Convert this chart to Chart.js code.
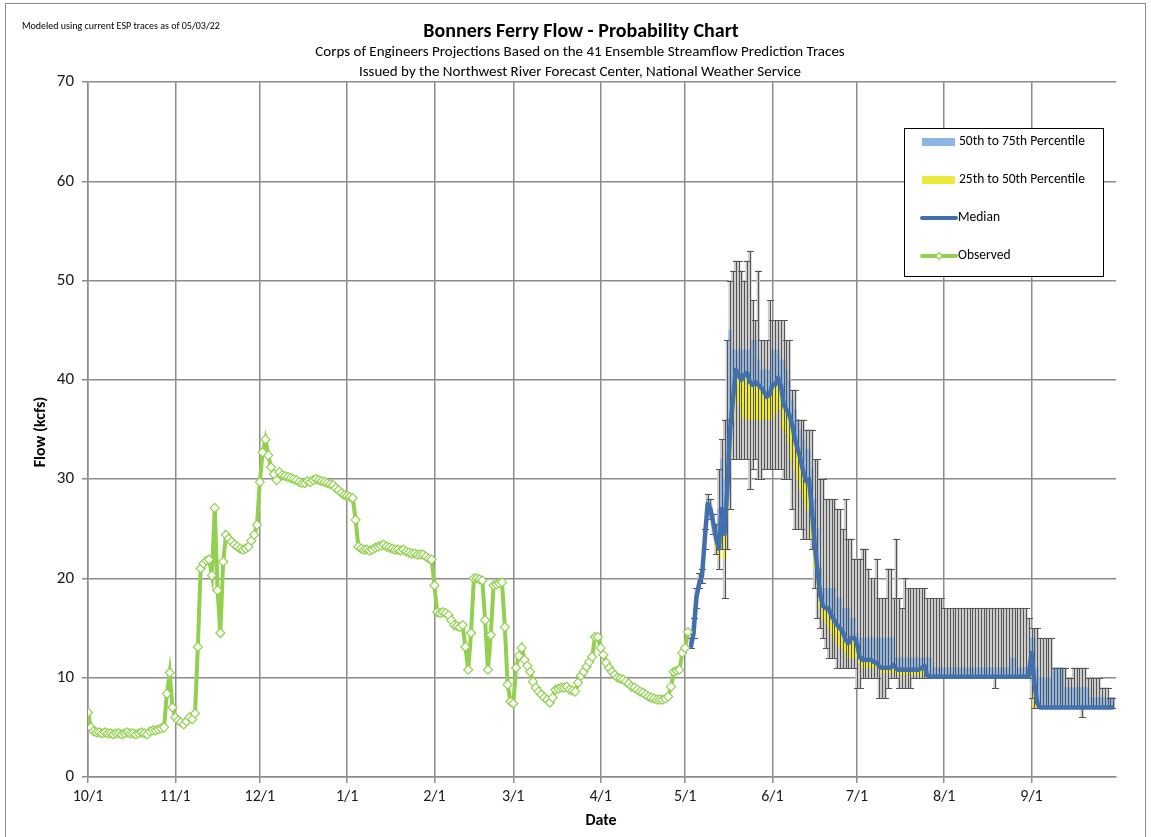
<!DOCTYPE html>
<html>
<head>
<meta charset="utf-8">
<title>Bonners Ferry Flow - Probability Chart</title>
<script src="https://cdn.jsdelivr.net/npm/chart.js@4.4.1/dist/chart.umd.min.js"></script>
<style>
  html, body { margin: 0; padding: 0; background: #fff; }
  #wrap { width: 1151px; height: 837px; }
</style>
</head>
<body>
<div id="wrap"><canvas id="flowChart" width="1151" height="837"></canvas></div>
<script>
// day index 0 = 10/1 (water year), one value per day
const monthTicks = [0, 31, 61, 92, 123, 151, 182, 212, 243, 273, 304, 335];
const monthLabels = ['10/1', '11/1', '12/1', '1/1', '2/1', '3/1', '4/1', '5/1', '6/1', '7/1', '8/1', '9/1'];
const yTicks = [0, 10, 20, 30, 40, 50, 60, 70];

// observed flow (kcfs), 10/1 .. 5/2
const obsStart = 0;
const obsFlow = [
  6.5, 5.0, 4.6, 4.5, 4.5, 4.4, 4.5, 4.4, 4.4, 4.3,
  4.4, 4.4, 4.3, 4.4, 4.5, 4.4, 4.4, 4.3, 4.4, 4.5,
  4.4, 4.3, 4.6, 4.7, 4.7, 4.8, 4.9, 5.0, 8.4, 10.5,
  7.0, 6.0, 5.7, 5.5, 5.3, 5.6, 6.0, 5.8, 6.4, 13.1,
  21.0, 21.5, 21.8, 21.9, 20.3, 27.1, 18.8, 14.5, 21.7, 24.4,
  24.0, 23.7, 23.4, 23.2, 23.0, 22.9, 23.0, 23.2, 23.8, 24.4,
  25.4, 29.7, 32.7, 34.0, 32.4, 31.2, 30.5, 29.9, 30.7, 30.4,
  30.3, 30.2, 30.1, 30.0, 29.9, 29.7, 29.6, 29.6, 29.8, 29.7,
  29.9, 30.0, 29.9, 29.8, 29.7, 29.6, 29.5, 29.4, 29.1, 28.9,
  28.6, 28.4, 28.3, 28.2, 28.1, 25.9, 23.2, 23.0, 22.9, 22.9,
  22.8, 22.9, 23.1, 23.2, 23.3, 23.4, 23.2, 23.1, 23.0, 22.9,
  22.9, 22.8, 22.9, 22.7, 22.6, 22.5, 22.5, 22.4, 22.4, 22.4,
  22.2, 22.0, 21.9, 19.3, 16.6, 16.5, 16.6, 16.5, 16.3, 15.8,
  15.3, 15.2, 15.1, 15.3, 13.1, 10.8, 14.5, 20.0, 20.0, 19.9,
  19.8, 15.8, 10.8, 14.3, 19.3, 19.4, 19.5, 19.6, 15.1, 9.3,
  7.6, 7.4, 11.0, 12.2, 13.0, 11.8, 11.2, 10.6, 9.6, 9.0,
  8.6, 8.3, 8.0, 7.8, 7.5, 8.0, 8.8, 8.9, 9.0, 9.0,
  9.1, 8.8, 8.7, 8.6, 9.5, 10.2, 10.6, 11.1, 11.6, 12.1,
  14.1, 14.1, 13.0, 12.3, 11.5, 11.0, 10.6, 10.3, 10.0, 9.9,
  9.8, 9.6, 9.4, 9.1, 9.0, 8.8, 8.6, 8.5, 8.3, 8.1,
  8.0, 7.9, 7.8, 7.8, 7.8, 7.9, 8.1, 9.1, 10.6, 10.7,
  10.8, 12.5, 13.0, 14.6
];

// ESP forecast, 5/3 .. 9/30
const fcStart = 214;
const fcP25 = [
  13, 14, 17.5, 19, 20, 23.5, 27, 26.5, 25, 23,
  22, 24, 22, 26, 32, 36, 38, 37.5, 36, 36.5,
  36, 36, 36, 36, 36, 36, 36, 36, 36, 36,
  36.5, 37, 37, 35, 34.5, 33.5, 32, 31, 30, 29,
  28, 27, 27, 24, 21, 19, 17, 16, 15.5, 15,
  14.5, 14, 13.5, 13, 13, 12.5, 12, 12, 12, 12,
  11.5, 11, 11, 11, 11, 11, 11, 10.8, 10.5, 10.5,
  10.5, 10.5, 10.5, 10.5, 10.3, 10.3, 10.3, 10.3, 10.3, 10.3,
  10.3, 10.3, 10.3, 10.3, 10.1, 10.1, 10.1, 10.1, 10.1, 10.1,
  10.1, 10.1, 10.1, 10.1, 10.1, 10.1, 10.1, 10.1, 10.1, 10.1,
  10.1, 10.1, 10.1, 10.1, 10.1, 10.1, 10.1, 10.1, 10.1, 10.1,
  10.1, 10.1, 10.1, 10.1, 10.1, 10.1, 10.1, 10.1, 10.1, 10.1,
  10.1, 10, 7, 7, 7, 7, 7, 7, 7, 7,
  7, 7, 7, 7, 7, 7, 7, 7, 7, 7,
  7, 7, 7, 7, 7, 7, 7, 7, 7, 7,
  7
];
const fcMedian = [
  13, 14.5, 18, 19.5, 20.2, 24, 27.5, 27, 25.6, 24,
  23, 27, 24.5, 29, 35, 38, 41, 40.5, 40, 40.5,
  40.7, 39.8, 39.5, 39.8, 39.5, 39.2, 38.8, 38.3, 38.5, 39.5,
  39.5, 40.2, 39.5, 37.5, 37, 36.5, 35.5, 34, 33, 32,
  30.7, 29.8, 30, 27, 23.5, 20.8, 18.3, 17.2, 17, 17,
  16.2, 15.8, 15.3, 15, 14.6, 13.8, 13.5, 14, 14, 13.5,
  12.1, 11.8, 11.8, 11.8, 11.8, 11.6, 11.5, 11.1, 11, 11,
  11, 11, 11.3, 10.9, 10.8, 10.8, 10.8, 10.8, 10.8, 10.8,
  10.8, 10.8, 11, 11.2, 10.2, 10.1, 10.1, 10.1, 10.1, 10.1,
  10.1, 10.1, 10.1, 10.1, 10.1, 10.1, 10.1, 10.1, 10.1, 10.1,
  10.1, 10.1, 10.1, 10.1, 10.1, 10.1, 10.1, 10.1, 10.1, 10.1,
  10.1, 10.1, 10.1, 10.1, 10.1, 10.1, 10.1, 10.1, 10.1, 10.1,
  10.1, 12.5, 9.5, 7.5, 7, 7, 7, 7, 7, 7,
  7, 7, 7, 7, 7, 7, 7, 7, 7, 7,
  7, 7, 7, 7, 7, 7, 7, 7, 7, 7,
  7
];
const fcP75 = [
  13.5, 15, 18.5, 20, 21, 24.5, 28, 27.5, 26, 25,
  27, 32, 30, 36, 45, 43, 43, 43, 43, 43,
  43, 43, 44, 44, 42, 41, 41, 41, 41, 43,
  43, 43, 42, 42, 41, 40, 38, 37, 36, 35,
  34, 33, 33, 31, 28, 25, 21, 19, 19, 19,
  19, 19, 18, 18, 17, 17, 17, 16, 16, 14.5,
  14, 14, 14, 14, 14, 14, 14, 14, 14, 14,
  14, 14, 14, 12, 12, 12, 12, 12, 12, 12,
  12, 12, 12, 12, 12, 12, 11, 11, 11, 11,
  11, 11, 11, 11, 11, 11, 11, 11, 11, 11,
  11, 11, 11, 11, 11, 11, 11, 11, 11, 11,
  11, 11, 11, 11, 12, 12, 11, 11, 11, 11,
  11, 14, 14, 11, 10, 10, 10, 10, 10, 11,
  11, 11, 11, 9, 9, 9, 9, 9, 9, 9,
  9, 9, 8, 8, 8, 8, 8, 8, 8, 8,
  8
];
const fcMin = [
  13, 14, 17, 19, 19.5, 23, 26.5, 26, 24.5, 22.5,
  21, 23, 18, 23, 27, 32, 32, 32, 32, 32,
  32, 29, 31, 32, 30, 30, 31, 31, 31, 31,
  31, 31, 31, 30, 30, 30, 27, 25, 25, 25,
  24, 24, 24, 23, 19, 16, 15, 14, 13, 12,
  12, 12, 11, 11, 11, 11, 11, 11, 11, 9,
  9, 10, 10, 10, 10, 10, 10, 8, 8, 8,
  9, 10, 10, 10, 9, 9, 9, 9, 9, 10,
  10, 10, 10, 10, 10, 10, 10, 10, 10, 10,
  10, 10, 10, 10, 10, 10, 10, 10, 10, 10,
  10, 10, 10, 10, 10, 10, 10, 10, 9, 10,
  10, 10, 10, 10, 10, 10, 10, 10, 10, 10,
  10, 8, 7, 7, 7, 7, 7, 7, 7, 7,
  7, 7, 7, 7, 7, 7, 7, 7, 7, 6,
  7, 7, 7, 7, 7, 7, 7, 7, 7, 7,
  7
];
const fcMax = [
  14, 16, 19, 20.5, 21, 25, 28.5, 28, 26.5, 25.5,
  31, 34, 36, 44, 50, 51, 52, 52, 51, 50,
  52, 53, 48, 46, 51, 44, 44, 44, 48, 46,
  46, 46, 46, 46, 44, 44, 39, 39, 36, 36,
  36, 35, 35, 35, 32, 32, 30, 30, 28, 28,
  28, 28, 27, 27, 25, 28, 24, 24, 22, 22,
  22, 23, 23, 21, 20, 20, 22, 18, 18, 18,
  21, 21, 18, 24, 18, 17, 20, 19, 19, 19,
  19, 19, 19, 19, 18, 18, 18, 18, 18, 18,
  17, 17, 17, 17, 17, 17, 17, 17, 17, 17,
  17, 17, 17, 17, 17, 17, 17, 17, 17, 17,
  17, 17, 17, 17, 17, 17, 17, 17, 17, 17,
  16, 15, 15, 15, 14, 14, 14, 14, 14, 11,
  11, 11, 11, 11, 10, 10, 11, 11, 11, 11,
  11, 10, 10, 10, 10, 10, 9, 9, 9, 8,
  8
];

const FONT = "Carlito, Lato, 'Open Sans', sans-serif";
const GRID = '#8c8c8c';
const GREEN = '#92d050';
const BLUE = '#4170ac';
const LIGHT_BLUE = '#8db4e2';
const YELLOW = '#ece93a';
const WHISKER = '#555555';

const fcDay = i => fcStart + i;

// whiskers (min to max) drawn over the percentile bars, under the median line
const errorBarPlugin = {
  id: 'errorBars',
  afterDatasetDraw(chart, args) {
    if (chart.data.datasets[args.index].label !== '50th to 75th Percentile') return;
    const { ctx, chartArea } = chart;
    const xs = chart.scales.x;
    const ys = chart.scales.y;
    ctx.save();
    ctx.beginPath();
    ctx.rect(chartArea.left, chartArea.top, chartArea.width, chartArea.height);
    ctx.clip();
    ctx.strokeStyle = WHISKER;
    ctx.lineWidth = 1;
    fcMax.forEach((hi, i) => {
      const x = Math.round(xs.getPixelForValue(fcDay(i))) + 0.5;
      const yHi = Math.round(ys.getPixelForValue(hi)) + 0.5;
      const yLo = Math.round(ys.getPixelForValue(fcMin[i])) + 0.5;
      ctx.beginPath();
      ctx.moveTo(x, yHi);
      ctx.lineTo(x, yLo);
      ctx.moveTo(x - 3.5, yHi);
      ctx.lineTo(x + 3.5, yHi);
      ctx.moveTo(x - 3.5, yLo);
      ctx.lineTo(x + 3.5, yLo);
      ctx.stroke();
    });
    ctx.restore();
  }
};

// titles, notes, axis titles, legend box and frame
const decorPlugin = {
  id: 'decor',
  beforeDraw(chart) {
    const ctx = chart.ctx;
    ctx.save();
    ctx.fillStyle = '#fff';
    ctx.fillRect(0, 0, chart.width, chart.height);
    ctx.restore();
  },
  afterDraw(chart) {
    const ctx = chart.ctx;
    ctx.save();
    ctx.strokeStyle = GRID;
    ctx.lineWidth = 1;
    ctx.strokeRect(5.5, 3.5, 1140, 840);

    ctx.fillStyle = '#000';
    ctx.textBaseline = 'middle';
    ctx.textAlign = 'left';
    ctx.font = `10px ${FONT}`;
    ctx.fillText('Modeled using current ESP traces as of 05/03/22', 22, 26);

    ctx.textAlign = 'center';
    ctx.font = `bold 20px ${FONT}`;
    ctx.fillText('Bonners Ferry Flow - Probability Chart', 581, 32);
    ctx.font = `15px ${FONT}`;
    ctx.fillText('Corps of Engineers Projections Based on the 41 Ensemble Streamflow Prediction Traces', 580, 52);
    ctx.fillText('Issued by the Northwest River Forecast Center, National Weather Service', 580, 72);

    ctx.font = `bold 16px ${FONT}`;
    ctx.fillText('Date', 601, 821);
    ctx.save();
    ctx.translate(41, 432);
    ctx.rotate(-Math.PI / 2);
    ctx.fillText('Flow (kcfs)', 0, 0);
    ctx.restore();

    // legend
    ctx.fillStyle = '#fff';
    ctx.fillRect(904, 128, 199, 148);
    ctx.strokeStyle = '#000';
    ctx.strokeRect(904.5, 128.5, 199, 148);
    ctx.fillStyle = LIGHT_BLUE;
    ctx.fillRect(922, 138, 33, 8);
    ctx.fillStyle = YELLOW;
    ctx.fillRect(922, 176, 33, 8);
    ctx.lineCap = 'round';
    ctx.lineWidth = 4;
    ctx.strokeStyle = BLUE;
    ctx.beginPath(); ctx.moveTo(922, 218); ctx.lineTo(956, 218); ctx.stroke();
    ctx.strokeStyle = GREEN;
    ctx.beginPath(); ctx.moveTo(922, 256); ctx.lineTo(956, 256); ctx.stroke();
    ctx.lineWidth = 1.2;
    ctx.fillStyle = '#fff';
    ctx.beginPath();
    ctx.moveTo(939, 252.5); ctx.lineTo(942.5, 256); ctx.lineTo(939, 259.5); ctx.lineTo(935.5, 256);
    ctx.closePath(); ctx.fill(); ctx.stroke();

    ctx.fillStyle = '#000';
    ctx.textAlign = 'left';
    ctx.font = `13.5px ${FONT}`;
    ctx.fillText('50th to 75th Percentile', 959, 142);
    ctx.fillText('25th to 50th Percentile', 959, 180);
    ctx.fillText('Median', 958, 218);
    ctx.fillText('Observed', 958, 256);
    ctx.restore();
  }
};

const ctx = document.getElementById('flowChart').getContext('2d');
new Chart(ctx, {
  type: 'line',
  data: {
    datasets: [
      {
        label: 'Observed',
        type: 'line',
        order: 0,
        data: obsFlow.map((v, i) => ({ x: obsStart + i, y: v })),
        borderColor: GREEN,
        borderWidth: 4,
        pointStyle: 'rectRot',
        pointRadius: 4.5,
        pointBackgroundColor: '#fff',
        pointBorderColor: GREEN,
        pointBorderWidth: 1.2,
        tension: 0
      },
      {
        label: 'Median',
        type: 'line',
        order: 1,
        data: fcMedian.map((v, i) => ({ x: fcDay(i), y: v })),
        borderColor: BLUE,
        borderWidth: 4.5,
        pointRadius: 0,
        borderJoinStyle: 'round',
        tension: 0
      },
      {
        label: '50th to 75th Percentile',
        type: 'bar',
        order: 3,
        grouped: false,
        data: fcP75.map((v, i) => ({ x: fcDay(i), y: [fcMedian[i], v] })),
        backgroundColor: LIGHT_BLUE,
        borderWidth: 0,
        barPercentage: 1,
        categoryPercentage: 1
      },
      {
        label: '25th to 50th Percentile',
        type: 'bar',
        order: 4,
        grouped: false,
        data: fcP25.map((v, i) => ({ x: fcDay(i), y: [v, fcMedian[i]] })),
        backgroundColor: YELLOW,
        borderWidth: 0,
        barPercentage: 1,
        categoryPercentage: 1
      },
      {
        label: 'Range',
        type: 'bar',
        order: 5,
        grouped: false,
        data: fcMax.map((v, i) => ({ x: fcDay(i), y: [fcMin[i], v] })),
        backgroundColor: '#cccccc',
        borderWidth: 0,
        barPercentage: 1,
        categoryPercentage: 1
      }
    ]
  },
  options: {
    responsive: false,
    animation: false,
    devicePixelRatio: 1,
    layout: { padding: { top: 82, right: 35, left: 0, bottom: 0 } },
    plugins: {
      legend: { display: false },
      tooltip: { enabled: false },
      title: { display: false }
    },
    scales: {
      x: {
        type: 'linear',
        min: 0,
        max: 365,
        offset: false,
        afterBuildTicks: axis => { axis.ticks = monthTicks.map(v => ({ value: v })); },
        afterFit: axis => { axis.height = 60; },
        ticks: {
          autoSkip: false,
          maxRotation: 0,
          padding: 4,
          color: '#1a1a1a',
          font: { family: FONT, size: 16 },
          callback: v => monthLabels[monthTicks.indexOf(v)]
        },
        grid: { color: GRID, lineWidth: 1.5, tickLength: 6, offset: false },
        border: { color: GRID, width: 1.5 }
      },
      y: {
        min: 0,
        max: 70,
        afterBuildTicks: axis => { axis.ticks = yTicks.map(v => ({ value: v })); },
        afterFit: axis => { axis.width = 88; },
        ticks: {
          padding: 8,
          color: '#1a1a1a',
          font: { family: FONT, size: 17 }
        },
        grid: { color: GRID, lineWidth: 1.5, tickLength: 6 },
        border: { color: GRID, width: 1.5 }
      }
    }
  },
  plugins: [errorBarPlugin, decorPlugin]
});
</script>
</body>
</html>
